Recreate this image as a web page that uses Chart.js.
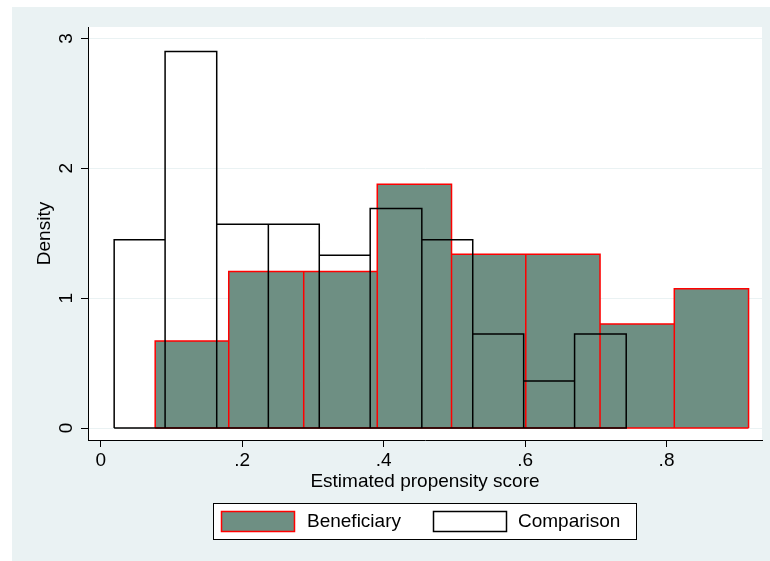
<!DOCTYPE html>
<html>
<head>
<meta charset="utf-8">
<script src="https://cdn.jsdelivr.net/npm/chart.js@4/dist/chart.umd.min.js"></script>
<style>
  html, body { margin: 0; padding: 0; background: #fff; }
  canvas { display: block; }
</style>
</head>
<body>
<canvas id="histChart" width="770" height="561"></canvas>
<script>
// bin edges and densities
const benEdges = [0.077, 0.181, 0.287, 0.391, 0.496, 0.601, 0.706, 0.811, 0.916];
const benDensity = [0.67, 1.205, 1.205, 1.877, 1.338, 1.338, 0.802, 1.072];

const cmpEdges = [0.019, 0.091, 0.164, 0.237, 0.309, 0.381, 0.454, 0.526, 0.598, 0.670, 0.743];
const cmpDensity = [1.45, 2.90, 1.57, 1.57, 1.33, 1.69, 1.45, 0.725, 0.363, 0.725];

const xTicks = [0, 0.2, 0.4, 0.6, 0.8];
const xTickLabels = ['0', '.2', '.4', '.6', '.8'];
const yTicks = [0, 1, 2, 3];
const yTickLabels = ['0', '1', '2', '3'];

const BG = '#EAF2F3';
const GREEN = '#6E8F83';
const FONT = '"Liberation Sans", Arial, sans-serif';

Chart.defaults.font.family = FONT;

// outline of adjacent rectangles, each one dropping to zero
function histPoints(edges, heights, closed) {
    const pts = [];
    for (let i = 0; i < heights.length; i++) {
        pts.push({ x: edges[i], y: 0 });
        pts.push({ x: edges[i], y: heights[i] });
        pts.push({ x: edges[i + 1], y: heights[i] });
        pts.push({ x: edges[i + 1], y: 0 });
    }
    if (closed) pts.push({ x: edges[0], y: 0 });
    return pts;
}

const backgroundPlugin = {
    id: 'stataBackground',
    beforeDraw(chart) {
        const { ctx, chartArea } = chart;
        ctx.save();
        ctx.fillStyle = '#fff';
        ctx.fillRect(0, 0, chart.width, chart.height);
        ctx.fillStyle = BG;
        ctx.fillRect(12, 7, chart.width - 12, chart.height - 7);
        ctx.fillStyle = '#fff';
        ctx.fillRect(chartArea.left, chartArea.top,
            chartArea.right - chartArea.left, chartArea.bottom - chartArea.top);
        ctx.restore();
    }
};

// vertical y tick labels, like Stata
const yLabelPlugin = {
    id: 'yLabels',
    afterDraw(chart) {
        const { ctx } = chart;
        const y = chart.scales.y;
        ctx.save();
        ctx.font = '19px ' + FONT;
        ctx.fillStyle = '#000';
        ctx.textAlign = 'center';
        ctx.textBaseline = 'middle';
        yTicks.forEach((v, i) => {
            ctx.save();
            ctx.translate(66.5, y.getPixelForValue(v));
            ctx.rotate(-Math.PI / 2);
            ctx.fillText(yTickLabels[i], 0, 0);
            ctx.restore();
        });
        ctx.restore();
    }
};

// boxed legend under the axis title
const legendPlugin = {
    id: 'boxLegend',
    afterDraw(chart) {
        const { ctx } = chart;
        const ds = chart.data.datasets;
        ctx.save();
        ctx.fillStyle = '#fff';
        ctx.fillRect(213.5, 503.5, 423, 36);
        ctx.strokeStyle = '#000';
        ctx.lineWidth = 1;
        ctx.strokeRect(213.5, 503.5, 423, 36);

        const items = [
            { d: ds[0], sx: 221.5, tx: 307 },
            { d: ds[1], sx: 433.5, tx: 518 }
        ];
        ctx.font = '19px ' + FONT;
        ctx.textBaseline = 'middle';
        ctx.textAlign = 'left';
        items.forEach(it => {
            ctx.fillStyle = it.d.fill ? it.d.backgroundColor : '#fff';
            ctx.fillRect(it.sx, 511.5, 73, 20);
            ctx.strokeStyle = it.d.borderColor;
            ctx.lineWidth = 1.5;
            ctx.strokeRect(it.sx, 511.5, 73, 20);
            ctx.fillStyle = '#000';
            ctx.fillText(it.d.label, it.tx, 522);
        });
        ctx.restore();
    }
};

new Chart(document.getElementById('histChart').getContext('2d'), {
    type: 'line',
    data: {
        datasets: [
            {
                label: 'Beneficiary',
                data: histPoints(benEdges, benDensity, false),
                fill: 'origin',
                backgroundColor: GREEN,
                borderColor: '#FF0000',
                borderWidth: 1.5,
                pointRadius: 0,
                tension: 0,
                order: 2
            },
            {
                label: 'Comparison',
                data: histPoints(cmpEdges, cmpDensity, true),
                fill: false,
                backgroundColor: 'transparent',
                borderColor: '#000000',
                borderWidth: 1.5,
                pointRadius: 0,
                tension: 0,
                order: 0
            },
            {
                // bottom edge of the beneficiary bars
                label: 'Beneficiary base',
                data: [{ x: benEdges[0], y: 0 }, { x: benEdges[benEdges.length - 1], y: 0 }],
                fill: false,
                borderColor: '#FF0000',
                borderWidth: 1.5,
                pointRadius: 0,
                order: 1
            }
        ]
    },
    options: {
        responsive: false,
        animation: false,
        layout: { padding: { left: 12, top: 27, right: 8, bottom: 61 } },
        plugins: {
            legend: { display: false },
            tooltip: { enabled: false }
        },
        scales: {
            x: {
                type: 'linear',
                min: -0.018,
                max: 0.935,
                afterBuildTicks: scale => { scale.ticks = xTicks.map(v => ({ value: v })); },
                afterFit: scale => { scale.height = 60; },
                ticks: {
                    color: '#000',
                    font: { size: 19 },
                    padding: 2,
                    maxRotation: 0,
                    callback: (v, i) => xTickLabels[i]
                },
                grid: {
                    drawOnChartArea: false,
                    tickLength: 7,
                    tickColor: '#000'
                },
                border: { color: '#000', width: 1 },
                title: {
                    display: true,
                    text: 'Estimated propensity score',
                    color: '#000',
                    font: { size: 19 },
                    padding: { top: 0, bottom: 7 }
                }
            },
            y: {
                type: 'linear',
                min: -0.092,
                max: 3.088,
                afterBuildTicks: scale => { scale.ticks = yTicks.map(v => ({ value: v })); },
                afterFit: scale => { scale.width = 76; },
                ticks: { display: false },
                grid: {
                    color: BG,
                    lineWidth: 1,
                    tickLength: 7,
                    tickColor: '#000'
                },
                border: { color: '#000', width: 1 },
                title: {
                    display: true,
                    text: 'Density',
                    color: '#000',
                    font: { size: 19 },
                    padding: { top: 21, bottom: 0 }
                }
            }
        }
    },
    plugins: [backgroundPlugin, yLabelPlugin, legendPlugin]
});
</script>
</body>
</html>
